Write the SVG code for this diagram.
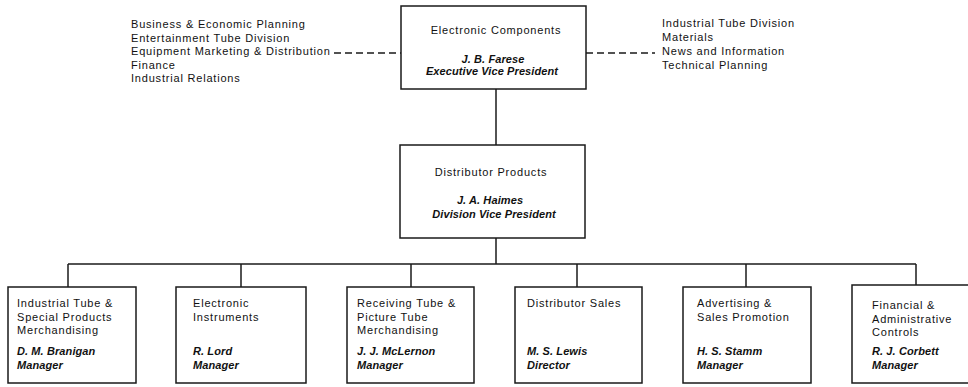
<svg xmlns="http://www.w3.org/2000/svg" width="968" height="387" viewBox="0 0 968 387">
<style>
.box{fill:#fff;stroke:#1a1a1a;stroke-width:1.5}
.ln{fill:none;stroke:#1a1a1a;stroke-width:1.5}
.dash{fill:none;stroke:#1a1a1a;stroke-width:1.3;stroke-dasharray:7 4}
text{font-family:"Liberation Sans",Arial,sans-serif;fill:#111}
.t{font-size:11px;letter-spacing:0.8px}
.n{font-size:11px;font-weight:bold;font-style:italic;letter-spacing:0.1px}
.c{text-anchor:middle}
</style>
<rect width="968" height="387" fill="#fff"/>
<g id="connectors">
<line class="ln" x1="496" y1="89" x2="496" y2="145"/>
<line class="ln" x1="496" y1="238" x2="496" y2="264"/>
<line class="ln" x1="68" y1="264" x2="916" y2="264"/>
<line class="ln" x1="68" y1="264" x2="68" y2="287"/>
<line class="ln" x1="241" y1="264" x2="241" y2="287"/>
<line class="ln" x1="411" y1="264" x2="411" y2="287"/>
<line class="ln" x1="577" y1="264" x2="577" y2="287"/>
<line class="ln" x1="746" y1="264" x2="746" y2="287"/>
<line class="ln" x1="916" y1="264" x2="916" y2="285"/>
<line class="dash" x1="334" y1="53" x2="401" y2="53"/>
<line class="dash" x1="586" y1="53" x2="655" y2="53"/>
</g>
<g id="staff-left">
<text class="t" x="131" y="28">Business &amp; Economic Planning</text>
<text class="t" x="131" y="41.5">Entertainment Tube Division</text>
<text class="t" x="131" y="55">Equipment Marketing &amp; Distribution</text>
<text class="t" x="131" y="68.5">Finance</text>
<text class="t" x="131" y="82">Industrial Relations</text>
</g>
<g id="staff-right">
<text class="t" x="662" y="27">Industrial Tube Division</text>
<text class="t" x="662" y="41">Materials</text>
<text class="t" x="662" y="55">News and Information</text>
<text class="t" x="662" y="68.5">Technical Planning</text>
</g>
<g id="electronic-components">
<rect class="box" x="401" y="6" width="185" height="83"/>
<text class="t c" x="496" y="34">Electronic Components</text>
<text class="n c" x="493" y="63">J. B. Farese</text>
<text class="n c" x="492" y="75">Executive Vice President</text>
</g>
<g id="distributor-products">
<rect class="box" x="400" y="145" width="185" height="93"/>
<text class="t c" x="491" y="176">Distributor Products</text>
<text class="n c" x="490" y="204">J. A. Haimes</text>
<text class="n c" x="494" y="218">Division Vice President</text>
</g>
<g id="industrial-tube">
<rect class="box" x="8" y="287" width="128" height="96"/>
<text class="t" x="17" y="307">Industrial Tube &amp;</text>
<text class="t" x="17" y="320.5">Special Products</text>
<text class="t" x="17" y="334">Merchandising</text>
<text class="n" x="17" y="355">D. M. Branigan</text>
<text class="n" x="17" y="369">Manager</text>
</g>
<g id="electronic-instruments">
<rect class="box" x="176" y="287" width="130" height="96"/>
<text class="t" x="193" y="307">Electronic</text>
<text class="t" x="193" y="320.5">Instruments</text>
<text class="n" x="193" y="355">R. Lord</text>
<text class="n" x="193" y="369">Manager</text>
</g>
<g id="receiving-tube">
<rect class="box" x="347" y="287" width="127" height="96"/>
<text class="t" x="357" y="307">Receiving Tube &amp;</text>
<text class="t" x="357" y="320.5">Picture Tube</text>
<text class="t" x="357" y="334">Merchandising</text>
<text class="n" x="357" y="355">J. J. McLernon</text>
<text class="n" x="357" y="369">Manager</text>
</g>
<g id="distributor-sales">
<rect class="box" x="515" y="287" width="127" height="96"/>
<text class="t" x="527" y="307">Distributor Sales</text>
<text class="n" x="527" y="355">M. S. Lewis</text>
<text class="n" x="527" y="369">Director</text>
</g>
<g id="advertising">
<rect class="box" x="683" y="287" width="128" height="96"/>
<text class="t" x="697" y="307">Advertising &amp;</text>
<text class="t" x="697" y="320.5">Sales Promotion</text>
<text class="n" x="697" y="355">H. S. Stamm</text>
<text class="n" x="697" y="369">Manager</text>
</g>
<g id="financial">
<rect class="box" x="852" y="285" width="130" height="98"/>
<text class="t" x="872" y="309">Financial &amp;</text>
<text class="t" x="872" y="322.5">Administrative</text>
<text class="t" x="872" y="336">Controls</text>
<text class="n" x="872" y="355">R. J. Corbett</text>
<text class="n" x="872" y="369">Manager</text>
</g>
</svg>
